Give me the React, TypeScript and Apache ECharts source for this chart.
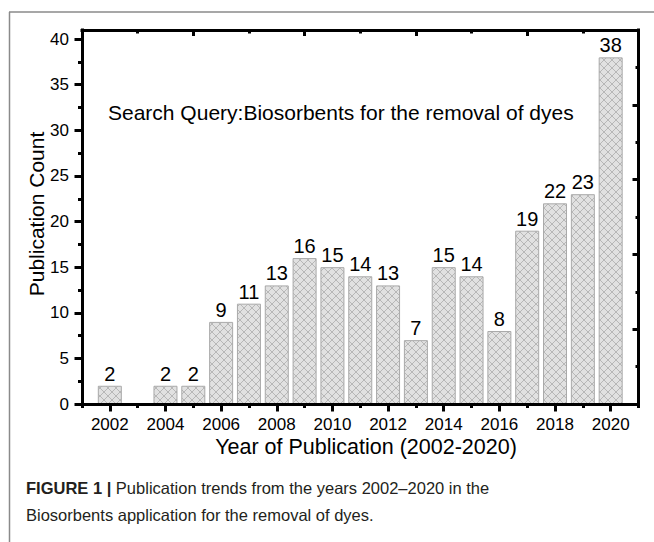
import React, { useEffect, useRef } from "react";
import * as echarts from "echarts";

const years = [2002, 2004, 2005, 2006, 2007, 2008, 2009, 2010, 2011, 2012, 2013, 2014, 2015, 2016, 2017, 2018, 2019, 2020];
const counts = [2, 2, 2, 9, 11, 13, 16, 15, 14, 13, 7, 15, 14, 8, 19, 22, 23, 38];

const xMajorTicks = [2002, 2004, 2006, 2008, 2010, 2012, 2014, 2016, 2018, 2020];
const xMinorTicks = [2001, 2003, 2005, 2007, 2009, 2011, 2013, 2015, 2017, 2019, 2021];
const topMajorTicks = [2001, 2005, 2009, 2013, 2017, 2021];
const topMinorTicks = [2003, 2007, 2011, 2015, 2019];
const yMajorTicks = [0, 5, 10, 15, 20, 25, 30, 35, 40];
const yMinorTicks = [2.5, 7.5, 12.5, 17.5, 22.5, 27.5, 32.5, 37.5];
const rightMajorTicks = [0, 8.2, 16.4, 24.6, 32.8, 41];
const rightMinorTicks = [4.1, 12.3, 20.5, 28.7, 36.9];

const xTitle = "Year of Publication (2002-2020)";
const yTitle = "Publication Count";
const note = "Search Query:Biosorbents for the removal of dyes";
const captionLine1 = "{b|FIGURE 1 |} Publication trends from the years 2002\u20132020 in the";
const captionLine2 = "Biosorbents application for the removal of dyes.";

const FONT = "'Liberation Sans', Arial, Helvetica, sans-serif";

const hatchSvg =
  "<svg xmlns='http://www.w3.org/2000/svg' width='8' height='8'>" +
  "<rect width='8' height='8' fill='#e1e1e1'/>" +
  "<path d='M0 0L8 8M8 0L0 8' stroke='#b2b2b2' stroke-width='0.9' fill='none'/>" +
  "</svg>";
const hatchUrl = "data:image/svg+xml;charset=utf-8," + encodeURIComponent(hatchSvg);

export default function App() {
  const ref = useRef<HTMLDivElement>(null);

  useEffect(() => {
    if (!ref.current) return;
    const chart = echarts.init(ref.current, undefined, { renderer: "svg" });

    const axisLine = (show: boolean) => ({
      show,
      onZero: false,
      lineStyle: { color: "#000", width: 3, cap: "square" },
    });
    const tick = (values: number[], length: number, inside: boolean) => ({
      show: true,
      customValues: values,
      inside,
      length,
      lineStyle: { color: "#000", width: 3 },
    });
    const noLabel = { show: false };

    const option: any = {
      animation: false,
      backgroundColor: "#fff",
      grid: { left: 82, right: 15.5, top: 30, bottom: 138, containLabel: false },
      xAxis: [
        {
          type: "value", position: "bottom", min: 2001, max: 2021, z: 10,
          axisLine: axisLine(true),
          axisTick: tick(xMajorTicks, 7.5, false),
          axisLabel: {
            customValues: xMajorTicks, margin: 12, fontSize: 17, color: "#000", fontFamily: FONT,
            formatter: (v: number) => String(v),
          },
          splitLine: { show: false },
        },
        {
          type: "value", position: "bottom", min: 2001, max: 2021, z: 10,
          axisLine: axisLine(false),
          axisTick: tick(xMinorTicks, 4, false),
          axisLabel: noLabel, splitLine: { show: false },
        },
        {
          type: "value", position: "top", min: 2001, max: 2021, z: 10,
          axisLine: axisLine(true),
          axisTick: tick(topMajorTicks, 6, true),
          axisLabel: noLabel, splitLine: { show: false },
        },
        {
          type: "value", position: "top", min: 2001, max: 2021, z: 10,
          axisLine: axisLine(false),
          axisTick: tick(topMinorTicks, 3.5, true),
          axisLabel: noLabel, splitLine: { show: false },
        },
      ],
      yAxis: [
        {
          type: "value", position: "left", min: 0, max: 41, z: 10,
          axisLine: axisLine(true),
          axisTick: tick(yMajorTicks, 7.5, false),
          axisLabel: {
            customValues: yMajorTicks, margin: 13, fontSize: 17, color: "#000", fontFamily: FONT,
            formatter: (v: number) => String(v),
          },
          splitLine: { show: false },
        },
        {
          type: "value", position: "left", min: 0, max: 41, z: 10,
          axisLine: axisLine(false),
          axisTick: tick(yMinorTicks, 4, false),
          axisLabel: noLabel, splitLine: { show: false },
        },
        {
          type: "value", position: "right", min: 0, max: 41, z: 10,
          axisLine: axisLine(true),
          axisTick: tick(rightMajorTicks, 6, true),
          axisLabel: noLabel, splitLine: { show: false },
        },
        {
          type: "value", position: "right", min: 0, max: 41, z: 10,
          axisLine: axisLine(false),
          axisTick: tick(rightMinorTicks, 3, true),
          axisLabel: noLabel, splitLine: { show: false },
        },
      ],
      series: [
        {
          type: "bar",
          name: "Publication Count",
          xAxisIndex: 0,
          yAxisIndex: 0,
          barWidth: 24,
          data: years.map((y, i) => [y, counts[i]]),
          itemStyle: {
            color: { image: hatchUrl, repeat: "repeat", imageWidth: 8, imageHeight: 8 },
            borderColor: "#a9a9a9",
            borderWidth: 1,
          },
          label: {
            show: true,
            position: "top",
            distance: 2,
            fontSize: 20,
            color: "#000",
            fontFamily: FONT,
          },
        },
      ],
      graphic: [
        { type: "line", shape: { x1: 9, y1: 12, x2: 654, y2: 12 }, style: { stroke: "#8a8a8a", lineWidth: 1.5 } },
        { type: "line", shape: { x1: 9.5, y1: 12, x2: 9.5, y2: 542 }, style: { stroke: "#8a8a8a", lineWidth: 1.5 } },
        {
          type: "text", x: 108, y: 112,
          style: { text: note, fontSize: 21, fontFamily: FONT, fill: "#000", textAlign: "left", textVerticalAlign: "middle" },
        },
        {
          type: "text", x: 36, y: 214, rotation: Math.PI / 2,
          style: { text: yTitle, fontSize: 21, fontFamily: FONT, fill: "#000", textAlign: "center", textVerticalAlign: "middle" },
        },
        {
          type: "text", x: 366, y: 447,
          style: { text: xTitle, fontSize: 21.5, fontFamily: FONT, fill: "#000", textAlign: "center", textVerticalAlign: "middle" },
        },
        {
          type: "text", x: 26, y: 488,
          style: {
            text: captionLine1, fontSize: 16.5, fontFamily: FONT, fill: "#231f20", textAlign: "left", textVerticalAlign: "middle",
            rich: { b: { fontWeight: "bold", fontSize: 16.5, fontFamily: FONT, fill: "#231f20" } },
          },
        },
        {
          type: "text", x: 26, y: 515,
          style: { text: captionLine2, fontSize: 16.5, fontFamily: FONT, fill: "#231f20", textAlign: "left", textVerticalAlign: "middle" },
        },
      ],
    };

    chart.setOption(option);
    return () => chart.dispose();
  }, []);

  return (
    <div
      ref={ref}
      style={{ position: "fixed", left: 0, top: 0, width: 654, height: 542, background: "#fff" }}
    />
  );
}
